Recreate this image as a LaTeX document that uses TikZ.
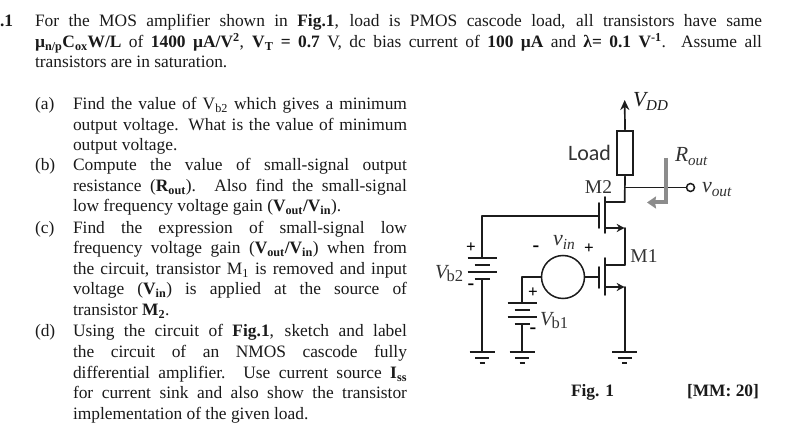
\documentclass[tikz,border=0pt]{standalone}
\usepackage{fontspec}
\setmainfont{Liberation Serif}
\newfontfamily\loadfont{Carlito}
\usetikzlibrary{arrows.meta}
\definecolor{ink}{HTML}{1A1A1A}
\definecolor{wirecol}{HTML}{1C1C1C}
\definecolor{rgray}{HTML}{8C8C8C}
\definecolor{labgray}{HTML}{333333}
\tikzset{
  wire/.style={draw=wirecol,line width=1.7pt,line cap=round,line join=round},
  plate/.style={draw=wirecol,line width=1.8pt},
  txt/.style={anchor=base west,inner sep=0pt,outer sep=0pt,text=ink,font=\fontsize{17.4}{19}\selectfont},
  lab/.style={inner sep=0pt,outer sep=0pt,text=labgray},
  sgn/.style={inner sep=0pt,outer sep=0pt,text=black,font=\bfseries\fontsize{17}{17}\selectfont},
  fet/.style={wire,-{Stealth[length=8pt,width=8pt]}},
}
\newcommand{\jl}[5]{\node[txt] (#1) at (#2,#3) {\makebox[#4pt][s]{#5}};}
\newcommand{\pl}[4]{\node[txt] (#1) at (#2,#3) {#4};}
\newcommand{\vbat}[1]{{\fontsize{20}{22}\selectfont\textit{V}}\kern-2.5pt\raisebox{-3pt}{\fontsize{16.5}{18}\selectfont #1}}
\newcommand{\gndsym}[1]{%
  \draw[plate] ([xshift=-12.5pt]#1) -- ([xshift=12.5pt]#1);
  \draw[plate] ([xshift=-7pt,yshift=-6pt]#1) -- ([xshift=7pt,yshift=-6pt]#1);
  \draw[plate] ([xshift=-2.5pt,yshift=-11pt]#1) -- ([xshift=2.5pt,yshift=-11pt]#1);
}
\newcommand{\batt}[1]{%
  \draw[plate] ([xshift=-14.5pt]#1) -- ([xshift=14.5pt]#1);
  \draw[plate] ([xshift=-7.5pt,yshift=-7pt]#1) -- ([xshift=7.5pt,yshift=-7pt]#1);
  \draw[plate] ([xshift=-14.5pt,yshift=-14pt]#1) -- ([xshift=14.5pt,yshift=-14pt]#1);
  \draw[plate] ([xshift=-7.5pt,yshift=-21pt]#1) -- ([xshift=7.5pt,yshift=-21pt]#1);
}
\begin{document}
\begin{tikzpicture}[x=1pt,y=-1pt]
\useasboundingbox[fill=white] (0,0) rectangle (796,430);
% --- heading text
\pl{qn}{0}{26.5}{\textbf{.1}}
\jl{h1}{35}{26.5}{727}{For the MOS amplifier shown in \textbf{Fig.1}, load is PMOS cascode load, all transistors have same}
\jl{h2}{35}{47.5}{727}{\textbf{µ\textsubscript{n/p}C\textsubscript{ox}W/L} of \textbf{1400 µA/V\textsuperscript{2}}, \textbf{V\textsubscript{T} = 0.7} V, dc bias current of \textbf{100 µA} and \textbf{λ= 0.1 V\textsuperscript{-1}}. Assume all}
\pl{h3}{35}{68}{transistors are in saturation.}
% --- (a)
\pl{la}{35}{110}{(a)}
\jl{a1}{73}{110}{334}{Find the value of V\textsubscript{b2} which gives a minimum}
\jl{a2}{73}{130.5}{334}{output voltage. What is the value of minimum}
\pl{a3}{73}{151}{output voltage.}
% --- (b)
\pl{lb}{35}{171}{(b)}
\jl{b1}{73}{171}{334}{Compute the value of small-signal output}
\jl{b2}{73}{191.5}{334}{resistance (\textbf{R\textsubscript{out}}). Also find the small-signal}
\pl{b3}{73}{212}{low frequency voltage gain (\textbf{V\textsubscript{out}/V\textsubscript{in}}).}
% --- (c)
\pl{lc}{35}{233.5}{(c)}
\jl{c1}{73}{233.5}{334}{Find the expression of small-signal low}
\jl{c2}{73}{254}{334}{frequency voltage gain (\textbf{V\textsubscript{out}/V\textsubscript{in}}) when from}
\jl{c3}{73}{274.5}{334}{the circuit, transistor M\textsubscript{1} is removed and input}
\jl{c4}{73}{295}{334}{voltage (\textbf{V\textsubscript{in}}) is applied at the source of}
\pl{c5}{73}{315.5}{transistor \textbf{M\textsubscript{2}}.}
% --- (d)
\pl{ld}{35}{337}{(d)}
\jl{d1}{73}{337}{334}{Using the circuit of \textbf{Fig.1}, sketch and label}
\jl{d2}{73}{358}{334}{the circuit of an NMOS cascode fully}
\jl{d3}{73}{378.5}{334}{differential amplifier. Use current source \textbf{I\textsubscript{ss}}}
\jl{d4}{73}{399}{334}{for current sink and also show the transistor}
\pl{d5}{73}{420}{implementation of the given load.}
% --- footer
\pl{fig}{571}{397}{\textbf{Fig. 1}}
\pl{mm}{687}{397}{\textbf{[MM: 20]}}
% --- named points
\coordinate (vdd) at (624.7,100);
\coordinate (dm2) at (624.7,202);
\coordinate (ch2d) at (605,202);
\coordinate (ch2s) at (605,228);
\coordinate (sm2) at (624.7,228);
\coordinate (ch1d) at (605,265);
\coordinate (dm1) at (624.7,265);
\coordinate (ch1s) at (605,287);
\coordinate (sm1) at (624.7,287);
\coordinate (g1) at (624.7,352);
\coordinate (outj) at (624.7,187.5);
\coordinate (gp2) at (599,216);
\coordinate (gp1) at (599,277);
\coordinate (b2a) at (482,216);
\coordinate (b2p) at (482,258);
\coordinate (b2q) at (482,279);
\coordinate (g2) at (482,352);
\coordinate (b1a) at (522,277);
\coordinate (b1p) at (522,303);
\coordinate (b1q) at (522,324);
\coordinate (g3) at (522,352);
% --- load and source nodes
\node[draw=wirecol,line width=2.8pt,minimum width=16pt,minimum height=44pt,inner sep=0pt,fill=white] (load) at (625,153) {};
\node[circle,draw=wirecol,line width=1.5pt,minimum size=43pt,inner sep=0pt] (vs) at (563,277) {};
\node[circle,draw=wirecol,line width=1.5pt,minimum size=8pt,inner sep=0pt,fill=white] (out) at (690.5,187.5) {};
% --- supply and load
\draw[wire,-{Stealth[length=10pt,width=9pt]}] (load.north) -- (vdd);
\draw[wire] (load.south) -- (dm2);
\draw[wire] (outj) -- (out.west);
% --- M2
\draw[wire] (dm2) -- (ch2d);
\draw[wire] (605,197) -- (605,233);
\draw[wire] (599,203) -- (599,228);
\draw[fet] (ch2s) -- (sm2);
\draw[wire] (sm2) -- (dm1);
% --- M1
\draw[wire] (dm1) -- (ch1d);
\draw[wire] (605,258) -- (605,295);
\draw[wire] (599,267) -- (599,288);
\draw[fet] (ch1s) -- (sm1);
\draw[wire] (sm1) -- (g1);
\gndsym{g1}
% --- gates
\draw[wire] (gp2) -- (b2a) -- (b2p);
\draw[wire] (vs.east) -- (gp1);
\draw[wire] (vs.west) -- (b1a) -- (b1p);
% --- batteries
\batt{b2p}
\draw[wire] (b2q) -- (g2);
\gndsym{g2}
\batt{b1p}
\draw[wire] (b1q) -- (g3);
\gndsym{g3}
% --- Rout arrow
\draw[draw=rgray,line width=4pt,-{Stealth[length=9pt,width=12pt,inset=1pt]}] (666,158) -- (666,202.5) -- (647,202.5);
% --- labels
\node[lab,font=\loadfont\fontsize{22}{24}\selectfont] (loadl) at (589.5,153) {Load};
\node[lab,font=\fontsize{19.5}{21}\selectfont] (m2l) at (598.5,187) {M2};
\node[lab,font=\fontsize{19.5}{21}\selectfont] (m1l) at (644,256) {M1};
\node[lab,anchor=base west,text=ink,font=\itshape\fontsize{21.5}{24}\selectfont] (vddl) at (633,107) {V\textsubscript{DD}};
\node[lab,anchor=base west,font=\itshape\fontsize{21.5}{24}\selectfont] (routl) at (675,162) {R\textsubscript{out}};
\node[lab,anchor=base west,font=\itshape\fontsize{22}{24}\selectfont] (voutl) at (702,193) {v\textsubscript{out}};
\node[lab,anchor=base west,font=\itshape\fontsize{22}{24}\selectfont] (vinl) at (553,246) {v\textsubscript{in}};
\node[lab,anchor=base west] (vb2l) at (435,279) {\vbat{b2}};
\node[lab,anchor=base west] (vb1l) at (540,326) {\vbat{b1}};
% --- polarity marks
\node[sgn,font=\bfseries\fontsize{20}{20}\selectfont] (s1) at (536,249) {-};
\node[sgn] (s2) at (589,249) {+};
\node[sgn] (s3) at (471,248) {+};
\node[sgn,font=\bfseries\fontsize{20}{20}\selectfont] (s4) at (471,287) {-};
\node[sgn] (s5) at (533,293) {+};
\node[sgn,font=\bfseries\fontsize{20}{20}\selectfont] (s6) at (533,331) {-};
\end{tikzpicture}
\end{document}
